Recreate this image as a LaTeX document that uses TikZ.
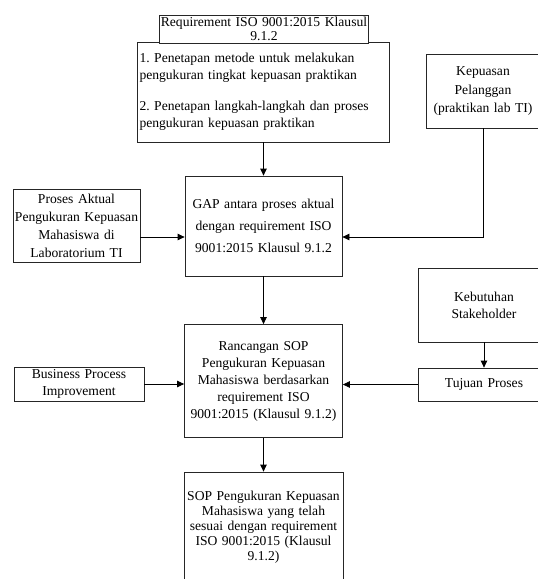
\documentclass[tikz,border=0pt]{standalone}
\usepackage{fontspec}
\setmainfont{Liberation Serif}
\usepackage{tikz}
\usetikzlibrary{arrows.meta, positioning, calc}
\frenchspacing

\begin{document}
\begin{tikzpicture}[
    x=1pt, y=-1pt,
    font=\fontsize{13.6}{17}\selectfont,
    line width=0.8pt,
    kotak/.style={draw=black!85, fill=white, align=center, inner sep=2pt},
    panah/.style={-{Stealth[length=7pt, width=6.5pt, inset=0pt]}}
  ]
  \useasboundingbox (0,0) rectangle (538,579);
  \clip (0,0) rectangle (538,579);

  % --- Requirement ISO ---
  \node[kotak, align=left, text width=248, minimum height=100] (metode) at (263.5,92)
       {1. Penetapan metode untuk melakukan\\
        pengukuran tingkat kepuasan praktikan\\[14pt]
        2. Penetapan langkah-langkah dan proses\\
        pengukuran kepuasan praktikan};
  \node[kotak, text width=208, minimum height=28, inner sep=0.5pt,
        font=\fontsize{13.6}{14.7}\selectfont] (judul) at (264,29)
       {Requirement ISO 9001:2015 Klausul\\9.1.2};

  % --- Kolom tengah ---
  \node[kotak, text width=153, minimum height=100,
        font=\fontsize{13.6}{22}\selectfont] (gap) at (263.5,226)
       {GAP antara proses aktual\\dengan requirement ISO\\9001:2015 Klausul 9.1.2};
  \node[kotak, text width=154, minimum height=113] (rancangan) at (263.5,381)
       {Rancangan SOP\\Pengukuran Kepuasan\\Mahasiswa berdasarkan\\
        requirement ISO\\9001:2015 (Klausul 9.1.2)};
  \node[kotak, text width=155, minimum height=110,
        font=\fontsize{13.6}{15}\selectfont] (sop) at (263.5,527)
       {SOP Pengukuran Kepuasan\\Mahasiswa yang telah\\sesuai dengan requirement\\
        ISO 9001:2015 (Klausul\\9.1.2)};

  % --- Masukan kiri ---
  \node[kotak, text width=127, inner xsep=0pt, minimum height=73,
        font=\fontsize{13.6}{18}\selectfont] (aktual) at (76.5,225.5)
       {Proses Aktual\\Pengukuran Kepuasan\\Mahasiswa di\\Laboratorium TI};
  \node[kotak, text width=126, minimum height=34,
        font=\fontsize{13.6}{16.5}\selectfont] (bpi) at (79,384)
       {Business Process\\Improvement};

  % --- Masukan kanan ---
  \node[kotak, text width=110, minimum height=74,
        font=\fontsize{13.6}{18.5}\selectfont] (kepuasan) at (483,91)
       {Kepuasan\\Pelanggan\\(praktikan lab TI)};
  \node[kotak, text width=128, minimum height=74] (kebutuhan) at (484,305)
       {Kebutuhan\\Stakeholder};
  \node[kotak, text width=128, minimum height=33] (tujuan) at (484,384.5)
       {Tujuan Proses};

  % --- Panah ---
  \draw[panah] (metode) -- (gap);
  \draw[panah] (gap) -- (rancangan);
  \draw[panah] (rancangan) -- (sop);
  \draw[panah] ([yshift=-11.5pt]aktual.east) -- ([yshift=-11pt]gap.west);
  \draw[panah] (kepuasan.south) |- ([yshift=-11pt]gap.east);
  \draw[panah] (bpi.east) -- (bpi.east -| rancangan.west);
  \draw[panah] (kebutuhan) -- (tujuan);
  \draw[panah] (tujuan.west) -- (tujuan.west -| rancangan.east);
\end{tikzpicture}
\end{document}
